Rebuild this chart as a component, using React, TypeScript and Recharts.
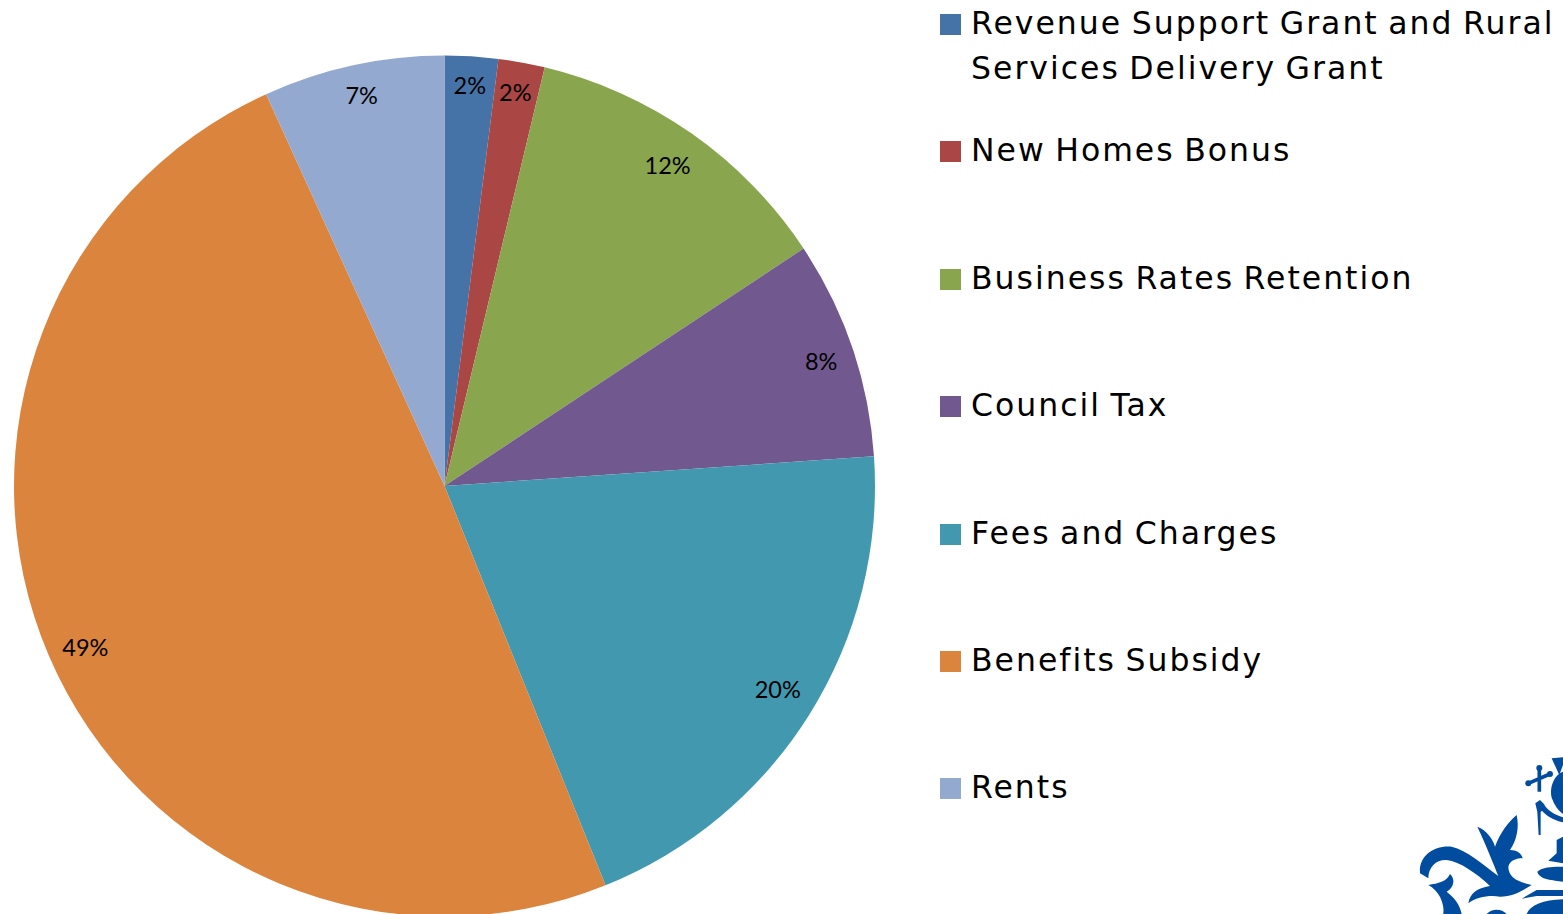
import { type FC } from "react";
import { PieChart, Pie, Cell, Legend } from "recharts";

const categories = [
  "Revenue Support Grant and Rural Services Delivery Grant",
  "New Homes Bonus",
  "Business Rates Retention",
  "Council Tax",
  "Fees and Charges",
  "Benefits Subsidy",
  "Rents",
];
const shares = [2.0, 1.74, 11.96, 8.2, 20.0, 49.3, 6.8];
const colors = ["#4572A7", "#AA4643", "#89A54E", "#71588F", "#4198AF", "#DB843D", "#93A9CF"];
// small hand corrections to where each percentage sits
const labelNudge = [[0, 1], [-1, 0], [-2, 1], [2, 2], [3, -4], [-1, 7], [2, 0]];

const chartData = categories.map((name, i) => ({ name, value: shares[i] }));

const RADIAN = Math.PI / 180;

// labels sit inside the rim, pushed in by the size of their own box
const renderLabel = ({ cx, cy, midAngle, outerRadius, percent, index }: any) => {
  const text = `${Math.round(percent * 100)}%`;
  const cos = Math.cos(-midAngle * RADIAN);
  const sin = Math.sin(-midAngle * RADIAN);
  const halfW = 5 + 6 * text.length;
  const r = outerRadius - 15 - (Math.abs(cos) * halfW + Math.abs(sin) * 12);
  return (
    <text
      x={cx + r * cos + labelNudge[index][0]}
      y={cy + r * sin + labelNudge[index][1]}
      fill="#000"
      textAnchor="middle"
      dominantBaseline="central"
      style={{ fontFamily: "Lato", fontSize: 23.5 }}
    >
      {text}
    </text>
  );
};

const renderLegend = ({ payload }: any) => (
  <div style={{ position: "relative", width: 623, height: 914 }}>
    {(payload || []).map((entry: any, i: number) => (
      <div key={entry.value} style={{ position: "absolute", left: 0, top: i * 127.4 }}>
        <span
          style={{
            position: "absolute",
            left: 0,
            top: 14,
            width: 21,
            height: 21,
            background: entry.color,
          }}
        />
        <div
          style={{
            position: "absolute",
            left: 31,
            top: 1,
            width: 600,
            fontFamily: "'DejaVu Sans'",
            fontSize: 31.5,
            letterSpacing: 2,
            wordSpacing: -2.5,
            lineHeight: "45px",
            color: "#000",
          }}
        >
          {entry.value}
        </div>
      </div>
    ))}
  </div>
);

// council crest in the corner, rough trace of the logo
const Crest: FC = () => (
  <g transform="translate(1380,740) scale(0.3333)" fill="#004C9E" stroke="none">
    <path d="M120,400 C115,350 160,315 215,320 C260,330 310,375 355,408 C340,370 320,320 292,260 C320,270 340,300 345,320 C360,280 385,245 410,225 C420,270 405,310 390,330 C410,330 425,340 428,355 C410,355 390,360 385,380 C385,410 410,425 455,435 C430,450 400,470 360,470 C330,465 290,470 265,490 C270,460 290,445 330,438 C290,400 240,365 200,360 C170,358 145,380 145,415 Z" />
    <path d="M145,435 C175,430 200,425 210,402 C225,415 225,440 200,455 C225,475 240,495 245,522 L190,522 C195,490 175,450 145,435 Z" />
    <path d="M478,85 L478,155 M445,130 L510,102" stroke="#004C9E" strokeWidth={11} fill="none" />
    <circle cx={478} cy={84} r={9} />
    <circle cx={510} cy={102} r={9} />
    <circle cx={445} cy={130} r={9} />
    <path d="M466,190 l14,-10 l12,12 C500,210 525,225 549,232 V247 C520,240 498,226 486,212 L482,216 V285 L476,285 L472,216 Z" />
    <path d="M549,95 C520,105 505,150 518,180 C528,205 540,215 549,222 Z" />
    <path d="M515,55 L549,52 V75 L538,105 Z" />
    <path d="M530,300 L549,290 V370 L505,362 L530,340 Z" />
    <path d="M472,395 C490,378 530,380 549,380 V425 C520,420 478,420 472,395 Z" />
    <path d="M425,476 L470,450 H549 V468 H470 Z" />
    <path d="M440,522 C450,495 490,480 549,478 V522 Z" />
    <path d="M320,522 C335,505 365,505 380,522 Z" />
  </g>
);

const App: FC = () => (
  <div style={{ position: "absolute", left: 0, top: 0, width: 1563, height: 914, overflow: "hidden" }}>
    <PieChart width={1563} height={914} margin={{ top: 0, right: 0, bottom: 0, left: 0 }}>
      <Pie
        data={chartData}
        dataKey="value"
        nameKey="name"
        cx={444.5}
        cy={486}
        outerRadius={430.5}
        startAngle={90}
        endAngle={-270}
        stroke="none"
        labelLine={false}
        label={renderLabel}
        isAnimationActive={false}
      >
        {chartData.map((d, i) => (
          <Cell key={d.name} fill={colors[i]} />
        ))}
      </Pie>
      <Legend
        content={renderLegend}
        itemSorter={null}
        wrapperStyle={{ position: "absolute", left: 940, top: 0, width: 623, height: 914 }}
      />
      <Crest />
    </PieChart>
  </div>
);

export default App;
